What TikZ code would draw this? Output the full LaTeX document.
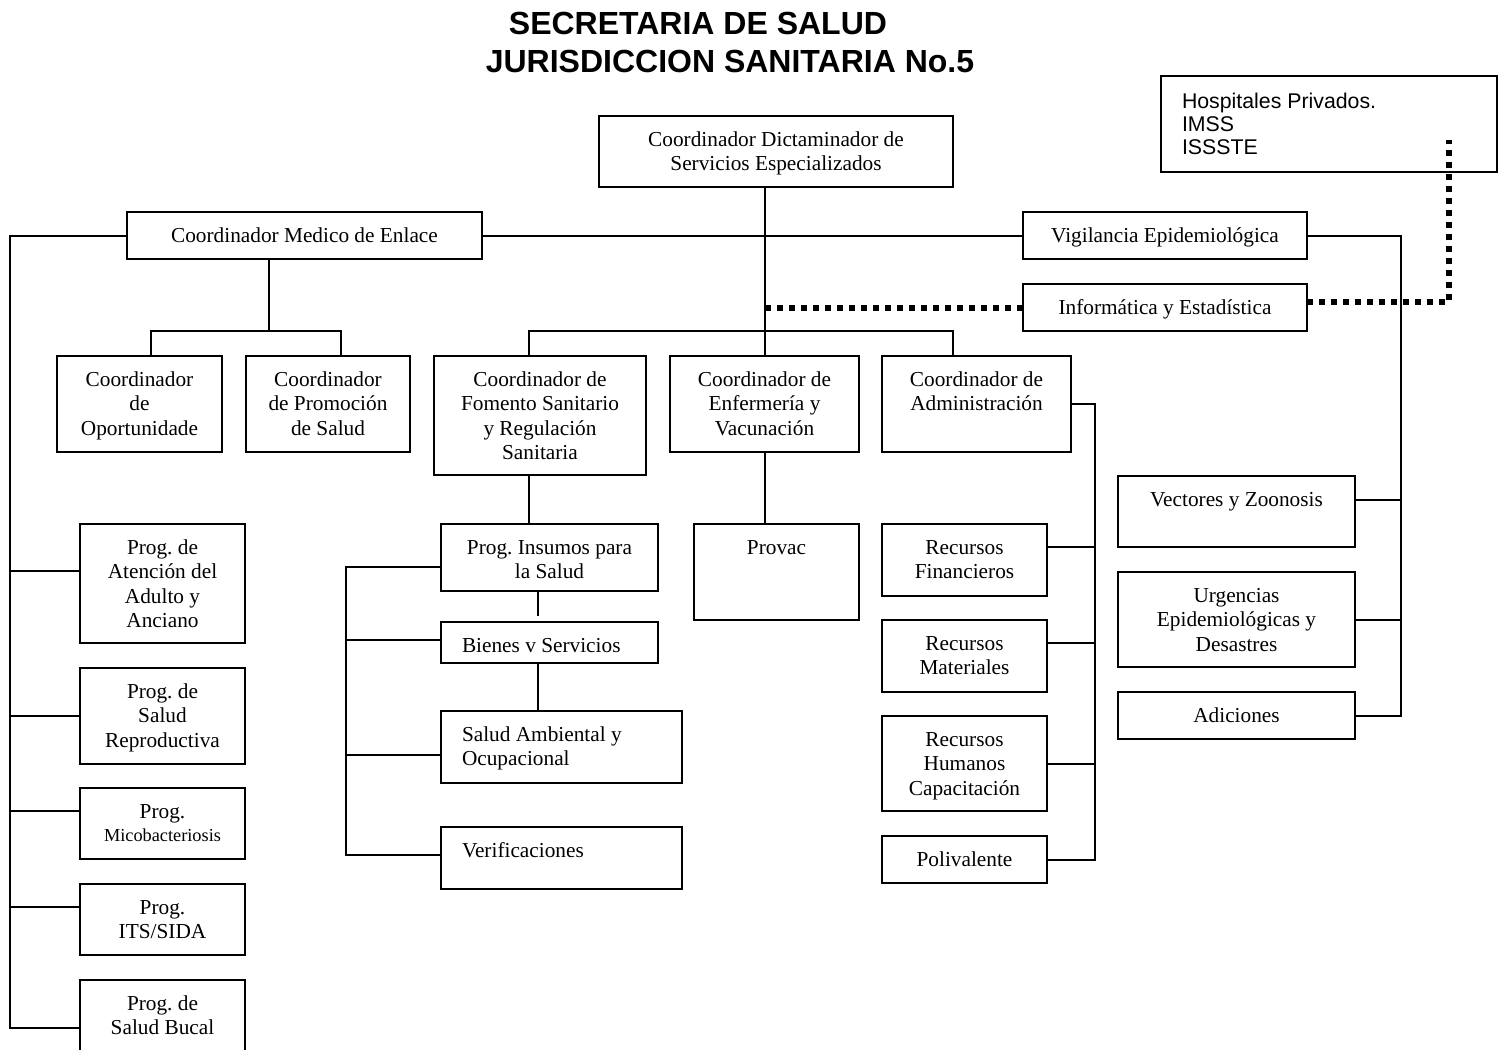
\documentclass[tikz,border=0pt]{standalone}
\usepackage{fontspec}
\setmainfont{Liberation Serif}
\newfontfamily\arialfont{Liberation Sans}
\frenchspacing
\begin{document}
\begin{tikzpicture}[x=1pt,y=-1pt,
  orgbox/.style={draw, line width=2pt, rectangle, inner sep=0pt, outer sep=0pt, fill=white},
  link/.style={line width=2pt},
  dots/.style={line width=6pt, dash pattern=on 6pt off 6pt},
  font=\fontsize{21.3}{24.5}\selectfont]
% box with centred text; arguments: name, left, top, width, height, text
\newcommand{\cbox}[6]{%
  \node[orgbox, anchor=north west, minimum width=#4pt, minimum height=#5pt] (#1) at (#2,#3)
    {\parbox[t][#5pt][t]{#4pt}{\centering\rule{0pt}{30pt}#6}};}
% box with left-aligned text
\newcommand{\lbox}[6]{%
  \node[orgbox, anchor=north west, minimum width=#4pt, minimum height=#5pt] (#1) at (#2,#3)
    {\parbox[t][#5pt][t]{#4pt}{\raggedright\leftskip=21pt\rule{0pt}{30pt}#6}};}

\useasboundingbox (0,0) rectangle (1500,1050);
\fill[white] (0,0) rectangle (1500,1050);

% heading
\node[anchor=base, font=\arialfont\bfseries\fontsize{32}{36}\selectfont] (t1) at (698,34) {SECRETARIA DE SALUD};
\node[anchor=base, font=\arialfont\bfseries\fontsize{32}{36}\selectfont] (t2) at (730,72) {JURISDICCION SANITARIA No.5};

% external institutions
\node[orgbox, anchor=north west, minimum width=336pt, minimum height=96pt] (hosp) at (1161,76)
  {\parbox[t][96pt][t]{336pt}{\arialfont\fontsize{21.3}{23}\selectfont\raggedright\leftskip=21pt\rule{0pt}{32pt}Hospitales Privados.\\IMSS\\ISSSTE}};

% top level
\cbox{dict}{599}{116}{354}{71}{Coordinador Dictaminador de\\Servicios Especializados}
\cbox{med}{127}{212}{355}{47}{Coordinador Medico de Enlace}
\cbox{vig}{1023}{212}{284}{47}{Vigilancia Epidemiológica}
\cbox{inf}{1023}{284}{284}{47}{Informática y Estadística}

% coordinators
\cbox{opo}{57}{356}{165}{96}{Coordinador\\de\\Oportunidade}
\cbox{prom}{246}{356}{164}{96}{Coordinador\\de Promoción\\de Salud}
\cbox{fom}{434}{356}{212}{119}{Coordinador de\\Fomento Sanitario\\y Regulación\\Sanitaria}
\cbox{enf}{670}{356}{189}{96}{Coordinador de\\Enfermería y\\Vacunación}
\cbox{adm}{882}{356}{189}{96}{Coordinador de\\Administración}

% sanitary regulation
\cbox{ins}{441}{524}{217}{67}{Prog. Insumos para\\la Salud}
\lbox{bie}{441}{622}{217}{41}{Bienes v Servicios}
\lbox{amb}{441}{711}{241}{72}{Salud Ambiental y\\Ocupacional}
\lbox{ver}{441}{827}{241}{62}{Verificaciones}

% nursing
\cbox{provac}{694}{524}{165}{96}{Provac}

% administration
\cbox{rfin}{882}{524}{165}{72}{Recursos\\Financieros}
\cbox{rmat}{882}{620}{165}{72}{Recursos\\Materiales}
\cbox{rhum}{882}{716}{165}{95}{Recursos\\Humanos\\Capacitación}
\cbox{poli}{882}{836}{165}{47}{Polivalente}

% epidemiology
\cbox{vect}{1118}{476}{237}{71}{Vectores y Zoonosis}
\cbox{urg}{1118}{572}{237}{95}{Urgencias\\Epidemiológicas y\\Desastres}
\cbox{adic}{1118}{692}{237}{47}{Adiciones}

% programmes
\cbox{adu}{80}{524}{165}{119}{Prog. de\\Atención del\\Adulto y\\Anciano}
\cbox{rep}{80}{668}{165}{96}{Prog. de\\Salud\\Reproductiva}
\cbox{mic}{80}{788}{165}{71}{Prog.\\[-1.5pt]{\fontsize{18.3}{21}\selectfont Micobacteriosis}}
\cbox{its}{80}{884}{165}{71}{Prog.\\ITS/SIDA}
\cbox{buc}{80}{980}{165}{95}{Prog. de\\Salud Bucal}

% ---- connectors ----
% main trunk
\draw[link] (enf.north) -- (enf.north |- dict.south);
\draw[link] ([xshift=-11pt]fom.north) -- ++(0,-25) -| ([xshift=-23.5pt]adm.north);
\draw[link] (med.east) -- (vig.west);
% liaison branch
\draw[link] ([xshift=-35.5pt]med.south) -- ++(0,72);
\draw[link] ([xshift=11.5pt]opo.north) -- ++(0,-25) -| ([xshift=13pt]prom.north);
% programmes bus
\draw[link] (med.west) -| ([xshift=-70pt]buc.west) -- (buc.west);
\draw[link] ([yshift=12.5pt]adu.west) -- ++(-70,0);
\draw[link] (rep.west) -- ++(-70,0);
\draw[link] ([yshift=12.5pt]mic.west) -- ++(-70,0);
\draw[link] ([yshift=12.5pt]its.west) -- ++(-70,0);
% sanitary regulation
\draw[link] ([xshift=-11pt]fom.south) -- ++(0,49);
\draw[link] ([xshift=-11.5pt]ins.south) -- ++(0,25);
\draw[link] ([xshift=-11.5pt]bie.south) -- ++(0,48);
\draw[link] ([yshift=-9.5pt]ins.west) -- ++(-95,0) |- ([yshift=3pt]ver.west);
\draw[link] ([yshift=2.5pt]bie.west) -- ++(-95,0);
\draw[link] ([yshift=-8pt]amb.west) -- ++(-95,0);
% nursing
\draw[link] (enf.south) -- (enf.south |- provac.north);
% administration
\draw[link] (adm.east) -| ([xshift=48pt]poli.east) -- (poli.east);
\draw[link] ([yshift=13pt]rfin.east) -- ++(48,0);
\draw[link] ([yshift=13pt]rmat.east) -- ++(48,0);
\draw[link] (rhum.east) -- ++(48,0);
% epidemiology
\draw[link] (vig.east) -| ([xshift=46pt]adic.east) -- (adic.east);
\draw[link] ([yshift=12pt]vect.east) -- ++(46,0);
\draw[link] (urg.east) -- ++(46,0);
% information flow
\draw[dots] (inf.west) -- (inf.west -| enf.north);
\draw[dots] ([yshift=6pt]inf.east) -| ([xshift=-48pt,yshift=32pt]hosp.south east);
\end{tikzpicture}
\end{document}
